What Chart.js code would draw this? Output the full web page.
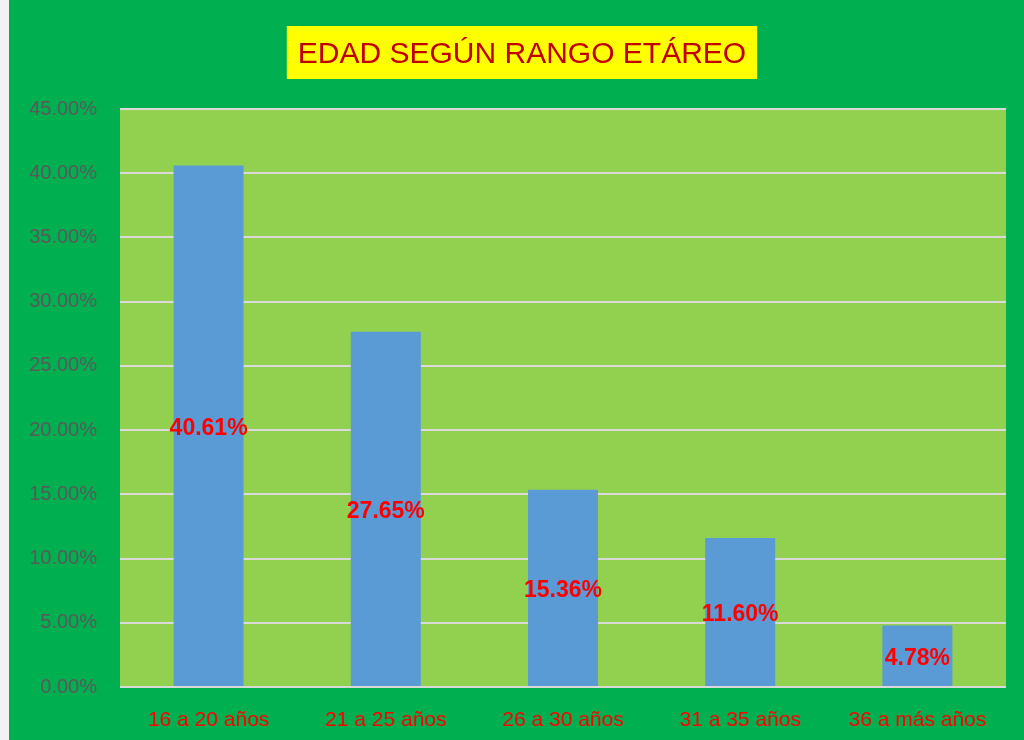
<!DOCTYPE html>
<html>
<head>
<meta charset="utf-8">
<script src="https://cdn.jsdelivr.net/npm/chart.js@4"></script>
<style>
  body { margin: 0; background: #f2f2f2; }
  #wrap { position: absolute; left: 9px; top: 0; width: 1015px; height: 740px; background: #00b050; }
</style>
</head>
<body>
<div id="wrap"><canvas id="chart" width="1015" height="740"></canvas></div>
<script>
// data
const titulo = 'EDAD SEGÚN RANGO ETÁREO';
const rangos = ['16 a 20 años', '21 a 25 años', '26 a 30 años', '31 a 35 años', '36 a más años'];
const porcentajes = [40.61, 27.65, 15.36, 11.60, 4.78];

const fondoPlot = {
  id: 'fondoPlot',
  beforeDraw(chart) {
    const { ctx, chartArea: a } = chart;
    ctx.save();
    ctx.fillStyle = '#92d050';
    ctx.fillRect(a.left, a.top, a.right - a.left, a.bottom - a.top);
    // title box
    ctx.font = '30px "Liberation Sans", sans-serif';
    const w = ctx.measureText(titulo).width;
    const cx = 513;
    ctx.fillStyle = '#ffff00';
    ctx.fillRect(cx - w / 2 - 11, 26, w + 22, 53);
    ctx.fillStyle = '#c00000';
    ctx.textAlign = 'center';
    ctx.textBaseline = 'middle';
    ctx.fillText(titulo, cx, 55);
    ctx.restore();
  }
};

const etiquetas = {
  id: 'etiquetas',
  afterDatasetsDraw(chart) {
    const { ctx } = chart;
    const meta = chart.getDatasetMeta(0);
    ctx.save();
    ctx.font = 'bold 23px "Liberation Sans", sans-serif';
    ctx.fillStyle = '#ff0000';
    ctx.textAlign = 'center';
    ctx.textBaseline = 'middle';
    meta.data.forEach((bar, i) => {
      const y = (bar.y + bar.base) / 2 + 3;
      ctx.fillText(porcentajes[i].toFixed(2) + '%', bar.x, y);
    });
    ctx.restore();
  }
};

new Chart(document.getElementById('chart'), {
  type: 'bar',
  data: {
    labels: rangos,
    datasets: [{
      data: porcentajes,
      backgroundColor: '#5b9bd5',
      barPercentage: 0.79,
      categoryPercentage: 0.5
    }]
  },
  options: {
    responsive: false,
    animation: false,
    layout: { padding: { top: 109, right: 18, bottom: 0, left: 0 } },
    plugins: { legend: { display: false }, tooltip: { enabled: false } },
    scales: {
      x: {
        grid: { display: false },
        border: { display: false },
        ticks: {
          color: '#ff0000',
          font: { family: '"Liberation Sans", sans-serif', size: 21 },
          padding: 13,
          maxRotation: 0
        },
        afterFit(s) { s.height = 53; }
      },
      y: {
        min: 0,
        max: 45,
        border: { display: false },
        grid: { color: '#d9d9d9', lineWidth: 2, drawTicks: false },
        ticks: {
          stepSize: 5,
          color: '#595959',
          font: { family: '"Liberation Sans", sans-serif', size: 20 },
          padding: 23,
          callback: v => v.toFixed(2) + '%'
        },
        afterFit(s) { s.width = 111; }
      }
    }
  },
  plugins: [fondoPlot, etiquetas]
});
</script>
</body>
</html>
